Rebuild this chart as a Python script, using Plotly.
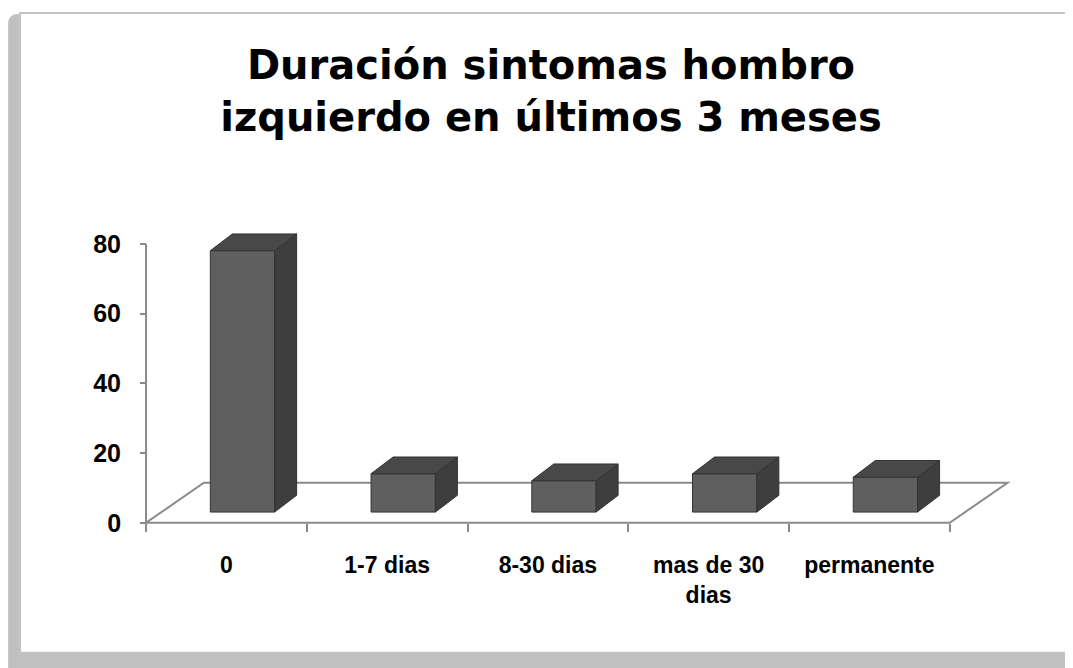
import plotly.graph_objects as go

categories = ['0', '1-7 dias', '8-30 dias', 'mas de 30<br>dias', 'permanente']
values = [75, 11, 9, 11, 10]
y_ticks = [0, 20, 40, 60, 80]

# the page body has an 8px margin, so the figure is drawn 8px in from the corner
OFF = 8
W, H = 1073 - OFF, 668 - OFF

# pixel layout of the pseudo 3d chart (screen pixels)
X0_PX, PX_PER_X = 146 - OFF, 160.8   # x = -0.5
Y0_PX, PX_PER_Y = 523 - OFF, 3.4875  # y = 0
XR = [-0.55, 4.9]
YR = [-1.5, 84]

L = X0_PX + (XR[0] + 0.5) * PX_PER_X
R = W - (X0_PX + (XR[1] + 0.5) * PX_PER_X)
T = Y0_PX - YR[1] * PX_PER_Y
B = H - (Y0_PX - YR[0] * PX_PER_Y)


def px_x(px):
    return (px - OFF - L) / (W - L - R)


def px_y(py):
    return (H - B - (py - OFF)) / (H - T - B)


# floor depth and bar depth (data units)
FD_X, FD_Y = 0.36, 11.47
BAR_W, BAR_SHIFT, LIFT = 0.4, 0.1, 3.07
DX, DY = 0.137, 4.8

GRID = '#8a8a8a'
FRONT, TOP, SIDE, EDGE = '#5f5f5f', '#484848', '#3e3e3e', '#333333'

fig = go.Figure()

xs = [i + BAR_SHIFT for i in range(len(values))]
fig.add_trace(go.Bar(
    x=xs, y=values, base=LIFT, width=BAR_W,
    marker=dict(color=FRONT, line=dict(color=EDGE, width=1)),
    hoverinfo='skip'
))

side_x, side_y, top_x, top_y = [], [], [], []
for x, v in zip(xs, values):
    x0, x1 = x - BAR_W / 2, x + BAR_W / 2
    b, t = LIFT, LIFT + v
    side_x += [x1, x1 + DX, x1 + DX, x1, x1, None]
    side_y += [b, b + DY, t + DY, t, b, None]
    top_x += [x0, x1, x1 + DX, x0 + DX, x0, None]
    top_y += [t, t, t + DY, t + DY, t, None]

fig.add_trace(go.Scatter(
    x=side_x, y=side_y, mode='lines', fill='toself', fillcolor=SIDE,
    line=dict(color=EDGE, width=1), hoverinfo='skip'
))
fig.add_trace(go.Scatter(
    x=top_x, y=top_y, mode='lines', fill='toself', fillcolor=TOP,
    line=dict(color=EDGE, width=1), hoverinfo='skip'
))

n = len(categories)
shapes = [
    # drop shadow + white card
    dict(type='path', xref='paper', yref='paper', layer='below',
         path=f'M {px_x(8)},{px_y(680)} L {px_x(8)},{px_y(24)} '
              f'Q {px_x(8)},{px_y(14)} {px_x(18)},{px_y(14)} '
              f'L {px_x(1073)},{px_y(14)} L {px_x(1073)},{px_y(680)} Z',
         fillcolor='#c0c0c0', line=dict(width=0)),
    dict(type='rect', xref='paper', yref='paper', layer='below',
         x0=px_x(20), x1=px_x(1090), y0=px_y(653), y1=px_y(13),
         fillcolor='white', line=dict(color='#c4c4c4', width=2)),
    # floor
    dict(type='path', xref='x', yref='y', layer='below',
         path=f'M -0.5,0 L {n - 0.5},0 L {n - 0.5 + FD_X},{FD_Y} '
              f'L {-0.5 + FD_X},{FD_Y} Z',
         line=dict(color=GRID, width=2)),
    # value axis line
    dict(type='line', xref='x', yref='y', layer='below',
         x0=-0.5, x1=-0.5, y0=0, y1=y_ticks[-1],
         line=dict(color=GRID, width=2)),
]

fig.update_layout(
    template='none',
    width=W, height=H,
    margin=dict(l=L, r=R, t=T, b=B, pad=0),
    paper_bgcolor='white', plot_bgcolor='white',
    showlegend=False,
    shapes=shapes,
    title=dict(
        text='Duración sintomas hombro<br>izquierdo en últimos 3 meses',
        font=dict(family='DejaVu Sans', size=40, color='black', weight='bold'),
        xref='container', x=(551 - OFF) / W, xanchor='center',
        yref='container', y=1 - 71 / H, yanchor='top'
    ),
    xaxis=dict(
        range=XR, showgrid=False, zeroline=False, showline=False,
        anchor='free', position=(0 - YR[0]) / (YR[1] - YR[0]),
        tickvals=list(range(n)), ticktext=categories, ticks='',
        tickfont=dict(family='Liberation Sans', size=23, color='black', weight='bold'),
        ticklabelstandoff=26,
        minor=dict(tickvals=[i - 0.5 for i in range(n + 1)], ticks='outside',
                   ticklen=8, tickwidth=2, tickcolor=GRID, showgrid=False),
        automargin=False
    ),
    yaxis=dict(
        range=YR, showgrid=False, zeroline=False, showline=False,
        anchor='free', position=(-0.5 - XR[0]) / (XR[1] - XR[0]),
        tickvals=y_ticks, ticks='outside', ticklen=6, tickwidth=2, tickcolor=GRID,
        tickfont=dict(family='Liberation Sans', size=25, color='black', weight='bold'),
        ticklabelstandoff=14,
        automargin=False
    ),
)

fig.write_html("out.html")
